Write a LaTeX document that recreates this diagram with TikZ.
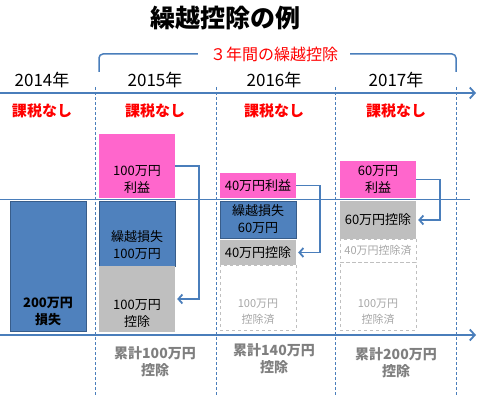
\documentclass[tikz,border=0pt]{standalone}
\usepackage{fontspec}
\setmainfont{Noto Sans CJK JP}
\usetikzlibrary{arrows.meta}

\definecolor{axisblue}{HTML}{4A7EBB}
\definecolor{lossblue}{HTML}{4F81BD}
\definecolor{lossedge}{HTML}{385D8A}
\definecolor{gainpink}{HTML}{FF66CC}
\definecolor{usedgray}{HTML}{BFBFBF}
\definecolor{donegray}{HTML}{A6A6A6}
\definecolor{sumgray}{HTML}{7F7F7F}
\definecolor{taxred}{HTML}{FF0000}

\tikzset{
  box/.style={minimum width=76pt, inner sep=0pt, align=center, font=\fontsize{13}{17}\selectfont},
  lossbox/.style={box, fill=lossblue, draw=lossedge, line width=0.8pt},
  gainbox/.style={box, fill=gainpink},
  usedbox/.style={box, fill=usedgray},
  donebox/.style={box, draw=usedgray, dashed, line width=0.8pt, text=donegray},
  donetext/.style={box, text=donegray, font=\fontsize{11}{16}\selectfont},
  carry/.style={draw=axisblue, line width=1.8pt, -{Straight Barb[length=4pt,width=9pt]}, shorten >=2pt},
  yearline/.style={axisblue, line width=0.6pt, dash pattern=on 3pt off 2pt},
}

\begin{document}
\begin{tikzpicture}[x=1pt, y=-1pt]
  \useasboundingbox (0,0) rectangle (478,395);

  \node [font=\fontsize{25}{25}\selectfont\bfseries] (title) at (225,18) {繰越控除の例};

  % bracket over three years
  \node [text=taxred, inner xsep=12pt, font=\fontsize{16}{16}\selectfont] (span) at (274,54) {３年間の繰越控除};
  \draw [axisblue, line width=1.5pt, rounded corners=4pt] (99,72) |- (span.west);
  \draw [axisblue, line width=1.5pt, rounded corners=4pt] (span.east) -| (456,72);

  \foreach \yr/\x in {2014/42,2015/155,2016/274,2017/396}
  {
    \node [font=\fontsize{17}{17}\selectfont] (y\yr) at (\x,80) {\yr 年};
    \node [text=taxred, font=\fontsize{15}{15}\selectfont\bfseries] (tax\yr) at (\x,111) {課税なし};
  }

  \begin{scope}[axisblue, line width=1.8pt, -{Straight Barb[length=5pt,width=11pt]}]
    \draw (0,93) -- (476,93);
    \draw (0,335) -- (476,335);
  \end{scope}
  \draw [axisblue, line width=0.8pt] (0,199) -- (470,199);

  \foreach \x in {95,216,335,456}
    \draw [yearline] (\x,87) -- (\x,395);

  % 2014
  \node [lossbox, minimum height=130pt] (loss14) at (48,266) {};
  \node [box, font=\fontsize{13}{17}\selectfont\bfseries] (loss14txt) at (48,311.5) {200万円\\損失};

  % 2015
  \node [gainbox, minimum height=64pt] (gain15) at (137,166) {};
  \node [box] (gain15txt) at (137,179.5) {100万円\\利益};
  \node [lossbox, minimum height=65pt] (loss15) at (137,233.5) {};
  \node [box] (loss15txt) at (137,245.5) {繰越損失\\100万円};
  \node [usedbox, minimum height=66pt] (used15) at (137,299) {};
  \node [box] (used15txt) at (137,313.5) {100万円\\控除};
  \draw [carry] (gain15.east) -- ++(24,0) |- (used15.east);

  % 2016
  \node [gainbox, minimum height=25pt] (gain16) at (258,185.5) {40万円利益};
  \node [lossbox, minimum height=37pt] (loss16) at (258,219.5) {繰越損失\\60万円};
  \node [usedbox, minimum height=25pt] (used16) at (258,252.5) {40万円控除};
  \node [donebox, minimum height=65pt] (done16) at (258,297.5) {};
  \node [donetext] (done16txt) at (258,312) {100万円\\控除済};
  \draw [carry] (gain16.east) -- ++(24,0) |- (used16.east);

  % 2017
  \node [gainbox, minimum height=37pt] (gain17) at (378,179.5) {60万円\\利益};
  \node [usedbox, minimum height=38pt] (used17) at (378,220) {60万円控除};
  \node [donebox, minimum height=23pt, font=\fontsize{11}{11}\selectfont] (done17a) at (378,250.5) {40万円控除済};
  \node [donebox, minimum height=68pt] (done17b) at (378,296) {};
  \node [donetext] (done17txt) at (378,312) {100万円\\控除済};
  \draw [carry] (gain17.east) -- ++(24,0) |- (used17.east);

  \foreach \x/\y/\amt in {155/361.5/100,274/359/140,396/362.5/200}
    \node [text=sumgray, align=center, font=\fontsize{14}{17}\selectfont\bfseries] (sum\amt) at (\x,\y) {累計\amt 万円\\控除};
\end{tikzpicture}
\end{document}
